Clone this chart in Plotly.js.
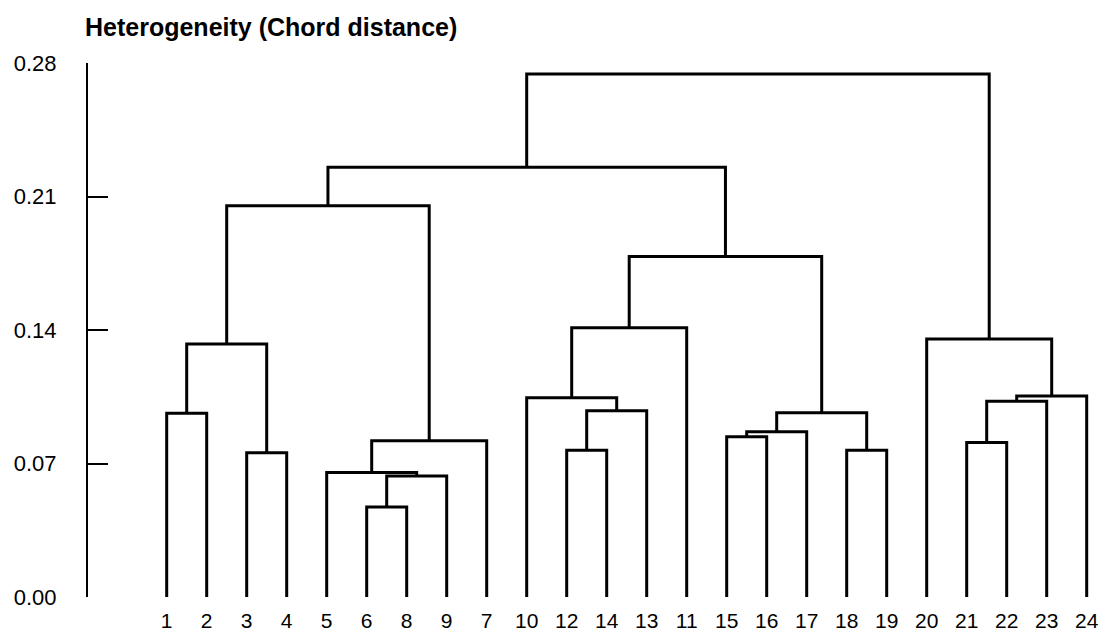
<!DOCTYPE html>
<html>
<head>
<meta charset="utf-8">
<script src="https://cdn.plot.ly/plotly-3.0.1.min.js"></script>
<style>html,body{margin:0;padding:0;background:#fff;}#chart{width:1110px;height:633px;}</style>
</head>
<body>
<div id="chart"></div>
<script>
// Leaf labels in dendrogram order (left to right)
var leafLabels = ["1","2","3","4","5","6","8","9","7","10","12","14","13","11","15","16","17","18","19","20","21","22","23","24"];
// Merges: node ids 0..23 are leaves (by position), 24+ are clusters in merge order
var mergeA = [5, 24, 4, 26, 2, 0, 29, 30, 10, 32, 9, 34, 14, 36, 17, 37, 35, 31, 20, 42, 43, 19, 41];
var mergeB = [6, 7, 25, 8, 3, 1, 28, 27, 11, 12, 33, 13, 15, 16, 18, 38, 39, 40, 21, 22, 23, 44, 45];
var mergeHeight = [0.0472, 0.0634, 0.0653, 0.0819, 0.0756, 0.0963, 0.1327, 0.2051,
                   0.0770, 0.0976, 0.1045, 0.1412, 0.0840, 0.0866, 0.0770, 0.0966,
                   0.1785, 0.2254, 0.0810, 0.1027, 0.1054, 0.1353, 0.2742];
var yTickVals = [0, 0.07, 0.14, 0.21, 0.28];

var nLeaf = leafLabels.length;
var nodeX = [], nodeH = [];
for (var i = 0; i < nLeaf; i++) { nodeX.push(i); nodeH.push(0); }
var xs = [], ys = [];
for (var m = 0; m < mergeA.length; m++) {
  var a = mergeA[m], b = mergeB[m], h = mergeHeight[m];
  xs.push(nodeX[a], nodeX[a], nodeX[b], nodeX[b], null);
  ys.push(nodeH[a], h, h, nodeH[b], null);
  nodeX.push((nodeX[a] + nodeX[b]) / 2);
  nodeH.push(h);
}
var leafPos = [];
for (var k = 0; k < nLeaf; k++) leafPos.push(k);

var font = "Liberation Sans, Arial, Helvetica, sans-serif";
var trace = {
  x: xs, y: ys, type: "scatter", mode: "lines",
  line: {color: "#000", width: 3},
  cliponaxis: false, hoverinfo: "skip", showlegend: false
};
var layout = {
  width: 1110, height: 633,
  margin: {l: 88, r: 12, t: 63, b: 36, pad: 0},
  paper_bgcolor: "#fff", plot_bgcolor: "#fff",
  title: {
    text: "<b>Heterogeneity (Chord distance)</b>",
    font: {family: font, size: 25, color: "#000"},
    xref: "container", x: 85/1110, xanchor: "left",
    yref: "container", y: 1 - 27/633, yanchor: "middle"
  },
  xaxis: {
    range: [-1.9675, 23.2825], showgrid: false, zeroline: false, showline: false,
    tickvals: leafPos, ticktext: leafLabels, ticks: "",
    tickfont: {family: font, size: 21, color: "#000"},
    ticklabelstandoff: 9, fixedrange: true
  },
  yaxis: {
    range: [0, 0.28], showgrid: false, zeroline: false,
    showline: true, linecolor: "#000", linewidth: 2,
    ticks: "inside", ticklen: 20, tickwidth: 2, tickcolor: "#000",
    tickvals: yTickVals, tickformat: ".2f",
    tickfont: {family: font, size: 22, color: "#000"},
    ticklabelstandoff: 25, fixedrange: true
  }
};
Plotly.newPlot("chart", [trace], layout, {displayModeBar: false, staticPlot: true});
</script>
</body>
</html>
